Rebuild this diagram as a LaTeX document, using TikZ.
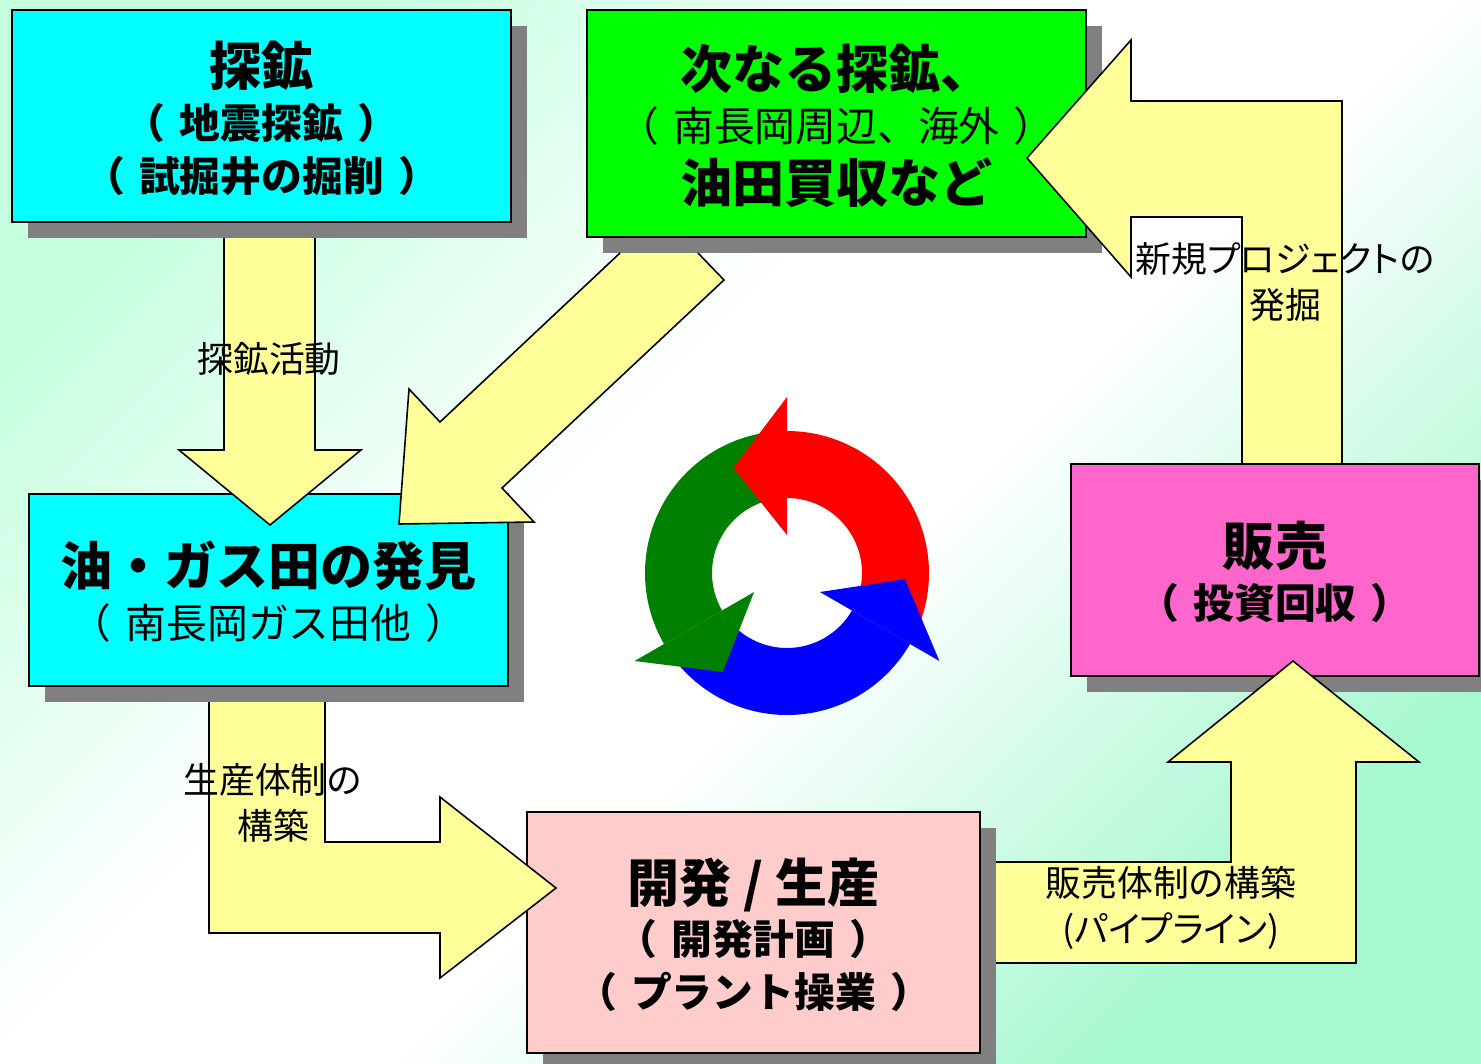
\documentclass[tikz,border=0pt]{standalone}
\usepackage{fontspec}
\setmainfont{Noto Sans CJK JP}
\newfontfamily\jpprop{Noto Sans CJK JP}[RawFeature=+palt]
\usetikzlibrary{shadows}
\definecolor{bgmintA}{RGB}{198,255,224}
\definecolor{bgmintB}{RGB}{166,248,208}
\definecolor{boxcyan}{RGB}{0,255,255}
\definecolor{boxgreen}{RGB}{0,255,0}
\definecolor{boxpink}{RGB}{255,204,204}
\definecolor{boxmagenta}{RGB}{255,102,204}
\definecolor{arrowyellow}{RGB}{255,255,153}
\definecolor{shadowgray}{RGB}{128,128,128}
\definecolor{cycred}{RGB}{255,0,0}
\definecolor{cycgreen}{RGB}{0,128,0}
\definecolor{cycblue}{RGB}{0,0,255}
\pgfdeclareverticalshading{bgdiag}{100bp}{color(0bp)=(bgmintB); color(25bp)=(bgmintB); color(45bp)=(white); color(56bp)=(white); color(75bp)=(bgmintA); color(100bp)=(bgmintA)}
\newcommand{\bigjp}{\fontsize{14.8pt}{15.6pt}\selectfont\bfseries}
\newcommand{\midjp}{\fontsize{11.6pt}{14.2pt}\selectfont}
\newcommand{\pl}{（\hspace{0.35em}}
\newcommand{\pr}{\hspace{0.35em}）}
\tikzset{
  box/.style={draw,line width=0.6pt,align=center,inner sep=0pt,text depth=-1.4pt,
    font=\fontsize{12pt}{15pt}\selectfont,
    general shadow={fill=shadowgray,shadow xshift=0.16cm,shadow yshift=-0.16cm}},
  blockarrow/.style={draw,fill=arrowyellow,line width=0.45pt,line join=miter},
  lbl/.style={align=center,inner sep=0pt,font=\fontsize{10.2pt}{13pt}\selectfont}
}
\begin{document}
\begin{tikzpicture}[x=0.01cm,y=-0.01cm]
 \useasboundingbox (0,0) rectangle (1481,1063);
 \shade[shading=bgdiag,shading angle=45] (0,0) rectangle (1481,1063);
 % upper right: next exploration
 \node[box,fill=boxgreen,minimum width=4.99cm,minimum height=2.27cm] (tsugi) at (836.5,123.5)
   {\bigjp 次なる探鉱、\\ \midjp \pl 南長岡周辺、海外\pr\\[2.5pt] \bigjp 油田買収など};
 \draw[blockarrow] (1242,470) -- (1242,217) -- (1131,217) -- (1131,277) -- (1027,158) -- (1131,40) -- (1131,101) -- (1342,101) -- (1342,470) -- cycle;
 % sales
 \node[box,fill=boxmagenta,minimum width=4.08cm,minimum height=2.12cm] (hanbai) at (1275,570)
   {\bigjp 販売\\ \midjp\bfseries \pl 投資回収\pr};
 \draw[blockarrow] (985,862) -- (1231,862) -- (1231,762) -- (1168,762) -- (1293,661) -- (1419,762) -- (1356,762) -- (1356,963) -- (985,963) -- cycle;
 % development / production
 \node[box,fill=boxpink,minimum width=4.53cm,minimum height=2.41cm] (kaihatsu) at (753.5,932.5)
   {\bigjp 開発 / 生産\\ \midjp\bfseries \pl 開発計画\pr\\ \midjp\bfseries \pl プラント操業\pr};
 \draw[blockarrow] (209,690) -- (325,690) -- (325,842) -- (440,842) -- (440,797) -- (556,888) -- (440,978) -- (440,933) -- (209,933) -- cycle;
 % discovery
 \node[box,fill=boxcyan,minimum width=4.79cm,minimum height=1.92cm] (hakken) at (268.5,590)
   {\bigjp 油・ガス田の発見\\ \midjp \pl 南長岡ガス田他\pr};
 \draw[blockarrow] (224,230) -- (315,230) -- (315,450) -- (361,450) -- (270,525) -- (179,450) -- (224,450) -- cycle;
 \draw[blockarrow] (698,253) -- (724,280) -- (502,488) -- (534,522) -- (399,524) -- (409,389) -- (440,422) -- (620,253);
 % exploration
 \node[box,fill=boxcyan,minimum width=4.99cm,minimum height=2.12cm] (tanko) at (261.5,116)
   {\bigjp 探鉱\\ \midjp\bfseries \pl 地震探鉱\pr\\ \midjp\bfseries \pl 試掘井の掘削\pr};
 % cycle in the middle
 \begin{scope}[shift={(787,573)},y=0.01cm]
  \fill[cycred] (-20:142) arc[start angle=-20,end angle=90,radius=142] -- (90:75) arc[start angle=90,end angle=-20,radius=75] -- cycle;
  \fill[cycgreen] (100:142) arc[start angle=100,end angle=210,radius=142] -- (210:75) arc[start angle=210,end angle=100,radius=75] -- cycle;
  \fill[cycblue] (220:142) arc[start angle=220,end angle=330,radius=142] -- (330:75) arc[start angle=330,end angle=220,radius=75] -- cycle;
  \fill[cycred] (90:38) -- (90:176) -- (117:118) -- cycle;
  \fill[cycgreen] (210:38) -- (210:176) -- (237:118) -- cycle;
  \fill[cycblue] (330:38) -- (330:176) -- (357:118) -- cycle;
 \end{scope}
 % arrow labels
 \node[lbl] (lbltanko) at (269,359) {探鉱活動};
 \node[lbl] (lblshinki) at (1285,282) {\jpprop 新規プロジェクトの\\ \jpprop 発掘};
 \node[lbl] (lblseisan) at (273,803) {生産体制の\\構築};
 \node[lbl] (lblhanbai) at (1171,908) {販売体制の構築\\ \jpprop (パイプライン)};
\end{tikzpicture}
\end{document}
